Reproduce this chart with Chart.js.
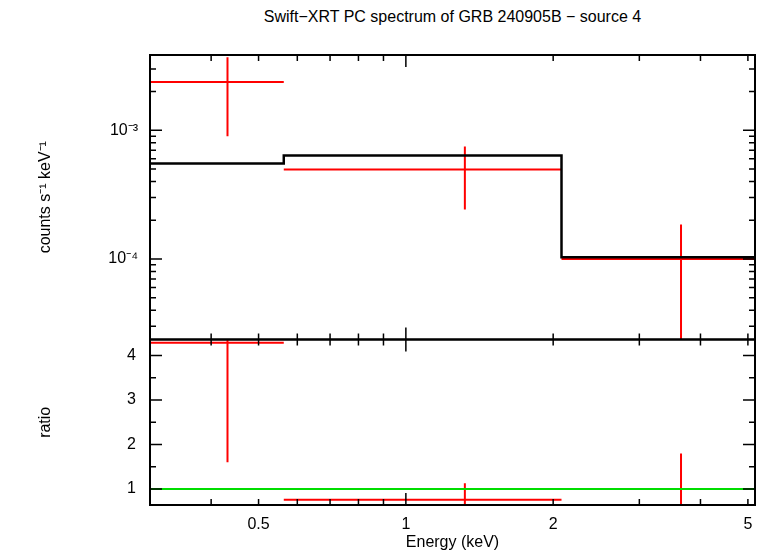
<!DOCTYPE html>
<html><head><meta charset="utf-8">
<script src="https://cdn.jsdelivr.net/npm/chart.js@4/dist/chart.umd.min.js"></script>
<style>
body{margin:0;background:#fff;width:767px;height:556px;position:relative;overflow:hidden;font-family:"Liberation Sans",Arial,sans-serif}
#title{position:absolute;top:8px;left:150px;width:605px;text-align:center;font-size:16px}
#c1{position:absolute;left:0;top:0}
#c2{position:absolute;left:0;top:324px}
</style></head><body>
<div id="title">Swift−XRT PC spectrum of GRB 240905B − source 4</div>
<canvas id="c1" width="767" height="353"></canvas>
<canvas id="c2" width="767" height="232"></canvas>
<script>
// data
const binLo = [0.3, 0.563, 2.08];
const binHi = [0.563, 2.08, 5.17];
const binCenter = [0.432, 1.32, 3.65];
const rate = [2.37e-3, 4.95e-4, 1.0e-4];
const rateErrHi = [3.7e-3, 7.5e-4, 1.85e-4];
const rateErrLo = [9.0e-4, 2.42e-4, 1e-7];
const modelEdges = [0.3, 0.563, 2.08, 5.17];
const modelVals = [5.52e-4, 6.38e-4, 1.03e-4];
const ratio = [4.29, 0.76, 1.0];
const ratioErrHi = [7.0, 1.13, 1.8];
const ratioErrLo = [1.6, 0.39, 0.1];
const xTickVals = [0.5, 1, 2, 5];
const yTopTicks = [1e-4, 1e-3];
const yTopLabels = ['10⁻⁴', '10⁻³'];
const yBotTicks = [1, 2, 3, 4];

const XMIN = 0.3, XMAX = 5.17;
const FONT = {family: '"Liberation Sans", Arial, sans-serif', size: 16};
Chart.defaults.font = FONT;
Chart.defaults.color = '#000';

function seg(a, b, color) {
  return {data: [a, b], borderColor: color, borderWidth: 2, pointRadius: 0, showLine: true, fill: false};
}
function errDatasets(vals, lo, hi) {
  const ds = [];
  for (let i = 0; i < vals.length; i++) {
    ds.push(seg({x: binLo[i], y: vals[i]}, {x: binHi[i], y: vals[i]}, '#ff0000'));
    ds.push(seg({x: binCenter[i], y: lo[i]}, {x: binCenter[i], y: hi[i]}, '#ff0000'));
  }
  return ds;
}
const xMinor = [];
for (const d of [0.1, 1]) for (let k = 1; k <= 9; k++) { const v = k * d; if (v >= XMIN && v <= XMAX) xMinor.push(v); }

const inTicks = {
  id: 'inTicks',
  afterDraw(chart, args, opts) {
    const c = chart.ctx, a = chart.chartArea;
    c.save(); c.strokeStyle = '#000'; c.lineWidth = 1.5;
    const xs = chart.scales.x, ys = chart.scales.y;
    for (const v of xMinor) {
      const px = xs.getPixelForValue(v);
      const len = (v === 1) ? 12 : 6;
      c.beginPath(); c.moveTo(px, a.bottom); c.lineTo(px, a.bottom - len);
      c.moveTo(px, a.top); c.lineTo(px, a.top + len); c.stroke();
    }
    for (const t of opts.yMajor) {
      const py = ys.getPixelForValue(t);
      c.beginPath(); c.moveTo(a.left, py); c.lineTo(a.left + 12, py);
      c.moveTo(a.right, py); c.lineTo(a.right - 12, py); c.stroke();
    }
    for (const t of opts.yMinor) {
      const py = ys.getPixelForValue(t);
      if (py < a.top || py > a.bottom) continue;
      c.beginPath(); c.moveTo(a.left, py); c.lineTo(a.left + 6, py);
      c.moveTo(a.right, py); c.lineTo(a.right - 6, py); c.stroke();
    }
    c.lineWidth = 2; c.strokeRect(a.left, a.top, a.right - a.left, a.bottom - a.top);
    c.restore();
  }
};

const yTopMinor = [];
for (const d of [1e-5, 1e-4, 1e-3]) for (let k = 2; k <= 9; k++) yTopMinor.push(k * d);
const yBotMinor = [];
for (let v = 0.5; v <= 4.5; v += 0.5) if (v % 1 !== 0) yBotMinor.push(v);

const modelPts = [];
for (let i = 0; i < modelVals.length; i++) { modelPts.push({x: modelEdges[i], y: modelVals[i]}); }
modelPts.push({x: modelEdges[modelEdges.length - 1], y: modelVals[modelVals.length - 1]});

new Chart(document.getElementById('c1'), {
  type: 'scatter',
  data: {datasets: [
    {data: modelPts, stepped: 'before', borderColor: '#000', borderWidth: 2.5, pointRadius: 0, showLine: true, fill: false},
    ...errDatasets(rate, rateErrLo, rateErrHi)
  ]},
  options: {
    responsive: false, animation: false, events: [],
    layout: {padding: {top: 55, right: 12, bottom: 2, left: 0}},
    plugins: {legend: {display: false}, tooltip: {enabled: false}, inTicks: {yMajor: yTopTicks, yMinor: yTopMinor}},
    scales: {
      x: {type: 'logarithmic', min: XMIN, max: XMAX, display: false,
          afterFit: s => { s.height = 0; }},
      y: {type: 'logarithmic', min: 2.37e-5, max: 3.85e-3,
          grid: {display: false}, border: {display: false},
          afterBuildTicks: s => { s.ticks = yTopTicks.map(v => ({value: v})); },
          ticks: {callback: (v) => yTopLabels[yTopTicks.indexOf(v)] ?? '', padding: 4},
          title: {display: true, text: 'counts s⁻¹ keV⁻¹', font: FONT, padding: {top: 36}},
          afterFit: s => { s.width = 150; }}
    }
  },
  plugins: [inTicks]
});

const onePts = [{x: 0.2, y: 1}, {x: 6, y: 1}];
new Chart(document.getElementById('c2'), {
  type: 'scatter',
  data: {datasets: [
    {data: onePts, borderColor: '#00dd00', borderWidth: 2, pointRadius: 0, showLine: true},
    ...errDatasets(ratio, ratioErrLo, ratioErrHi)
  ]},
  options: {
    responsive: false, animation: false, events: [],
    layout: {padding: {top: 0, right: 12, bottom: 0, left: 0}},
    plugins: {legend: {display: false}, tooltip: {enabled: false}, inTicks: {yMajor: yBotTicks, yMinor: yBotMinor}},
    scales: {
      x: {type: 'logarithmic', min: XMIN, max: XMAX,
          grid: {display: false}, border: {display: false},
          afterBuildTicks: s => { s.ticks = xTickVals.map(v => ({value: v})); },
          ticks: {callback: v => String(v), maxRotation: 0, autoSkip: false, padding: 2},
          title: {display: true, text: 'Energy (keV)', font: FONT, padding: {top: 0}},
          afterFit: s => { s.height = 51; }},
      y: {min: 0.64, max: 4.36,
          grid: {display: false}, border: {display: false},
          afterBuildTicks: s => { s.ticks = yBotTicks.map(v => ({value: v})); },
          ticks: {padding: 6},
          title: {display: true, text: 'ratio', font: FONT, padding: {top: 36}},
          afterFit: s => { s.width = 150; }}
    }
  },
  plugins: [inTicks]
});
</script>
</body></html>
